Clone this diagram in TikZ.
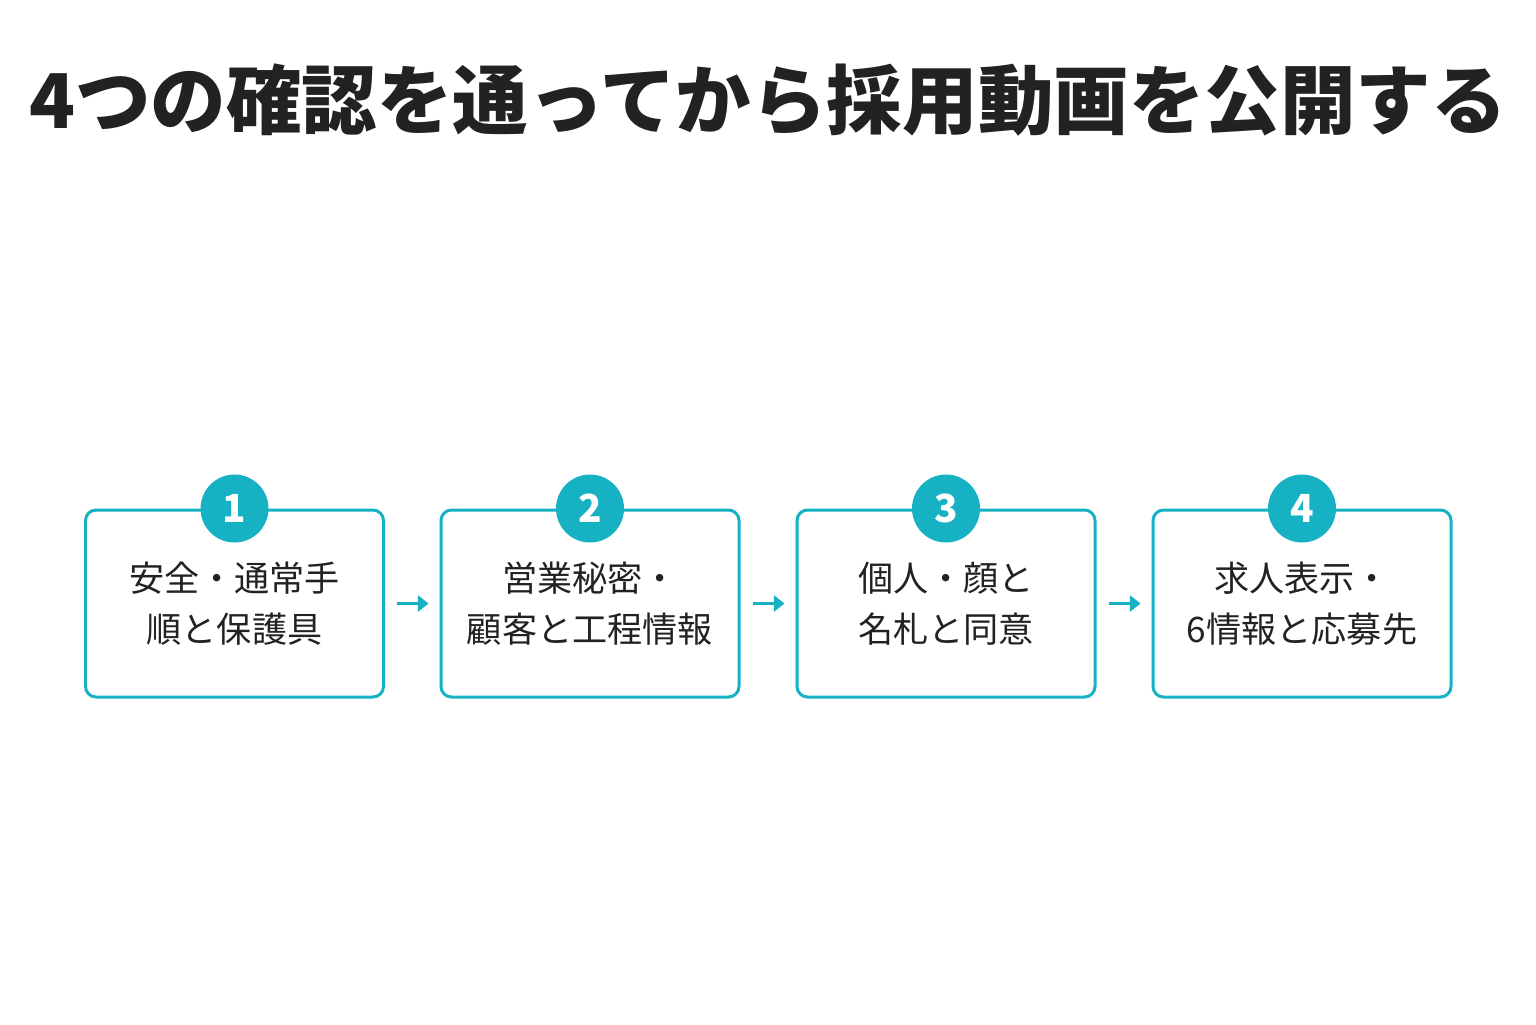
\documentclass[tikz,border=0pt]{standalone}
\usepackage{fontspec}
\setmainfont{Noto Sans CJK JP}
\usetikzlibrary{arrows.meta}
\definecolor{teal1}{HTML}{17B1C4}
\definecolor{ink}{HTML}{222222}
\tikzset{
  check box/.style={draw=teal1,line width=1.7pt,rounded corners=6pt,minimum width=5.96cm,minimum height=3.74cm,align=center,font=\fontsize{20}{29}\selectfont,text=ink},
  num/.style={circle,fill=teal1,minimum size=1.36cm,inner sep=0pt,text=white,font=\bfseries\fontsize{22}{22}\selectfont},
  flow/.style={teal1,line width=1.6pt,-{Triangle[length=6pt,width=9pt]},shorten <=0.24cm,shorten >=0.22cm}
}
\begin{document}
\begin{tikzpicture}
\useasboundingbox (0,0) rectangle (30.72,-20.48);
\node[font=\bfseries\fontsize{43}{43}\selectfont,text=ink] (title) at (15.36,-2.0) {4つの確認を通ってから採用動画を公開する};

\node[check box] (s1) at (4.69,-12.07) {安全・通常手\\順と保護具};
\node[check box] (s2) at (11.80,-12.07) {営業秘密・\\顧客と工程情報};
\node[check box] (s3) at (18.92,-12.07) {個人・顔と\\名札と同意};
\node[check box] (s4) at (26.04,-12.07) {求人表示・\\6情報と応募先};

\node[num] (n1) at (s1.north) {1};
\node[num] (n2) at (s2.north) {2};
\node[num] (n3) at (s3.north) {3};
\node[num] (n4) at (s4.north) {4};

\draw[flow] (s1) -- (s2);
\draw[flow] (s2) -- (s3);
\draw[flow] (s3) -- (s4);
\end{tikzpicture}
\end{document}
